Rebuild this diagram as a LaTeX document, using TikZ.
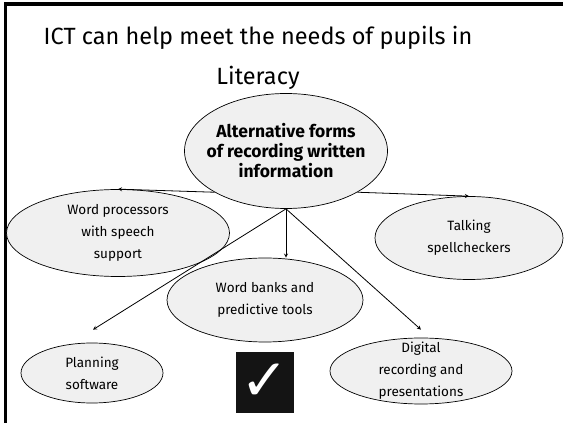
\documentclass[tikz,border=0pt]{standalone}
\usepackage{fontspec}
\setmainfont{Fira Sans}
\newfontfamily\ticksymbol{DejaVu Sans}
\usetikzlibrary{shapes, arrows.meta, positioning, calc}

\begin{document}
\begin{tikzpicture}[
    x=1pt, y=1pt,
    every node/.style={font=\fontsize{13.5}{22}\selectfont},
    topic/.style={
        ellipse,
        inner sep=-20pt,
        text centered,
        align=center,
        draw=black,
        line width=0.7pt,
        fill=gray!12
    },
    maintopic/.style={
        topic,
        font=\fontsize{17.5}{20}\selectfont\bfseries
    },
    arrow/.style={
        line width=0.8pt,
        ->,
        >=stealth
    }
]
\useasboundingbox (0,0) rectangle (565,423);

% Frame
\draw [line width=3.5pt] (5.5,0) -- (5.5,419) -- (563,419);

% Title
\node (title) [font=\fontsize{23.5}{40}\selectfont, align=center, inner sep=0pt] at (258,365)
    {ICT can help meet the needs of pupils in\\ Literacy};

% Centre
\node (alt) [maintopic, minimum width=203pt, minimum height=115pt] at (286,272)
    {Alternative forms\\ of recording written\\ information};

% Upper row
\node (wordproc) [topic, minimum width=223pt, minimum height=87pt] at (118,190)
    {Word processors\\ with speech\\ support};
\node (talking) [topic, minimum width=188pt, minimum height=83pt] at (469,185)
    {Talking\\ spellcheckers};

% Lower row
\node (wordbanks) [topic, minimum width=196pt, minimum height=84pt] at (265,123)
    {Word banks and\\ predictive tools};
\node (planning) [topic, minimum width=142pt, minimum height=60pt] at (92,50)
    {Planning\\ software};
\node (digital) [topic, minimum width=182pt, minimum height=66pt] at (421,52)
    {Digital\\ recording and\\ presentations};

% Tick
\node (tick) [fill=black!92, minimum width=58pt, minimum height=61pt, inner sep=0pt,
    text=white, font=\ticksymbol\fontsize{58}{58}\selectfont] at (265,40.5) {✓};

% Free ends above the bottom ellipses
\coordinate (plantop) at ($(planning.north)+(1,13)$);
\coordinate (digitop) at ($(digital.north)+(0,8)$);

% Arrows
\draw [arrow] (alt.210) -- (wordproc.north);
\draw [arrow] (alt.330) -- (talking.north);
\draw [arrow] (alt.south) -- (alt.south |- wordbanks.north);
\draw [arrow] (alt.south) -- (plantop);
\draw [arrow] (alt.south) -- (digitop);

\end{tikzpicture}
\end{document}
